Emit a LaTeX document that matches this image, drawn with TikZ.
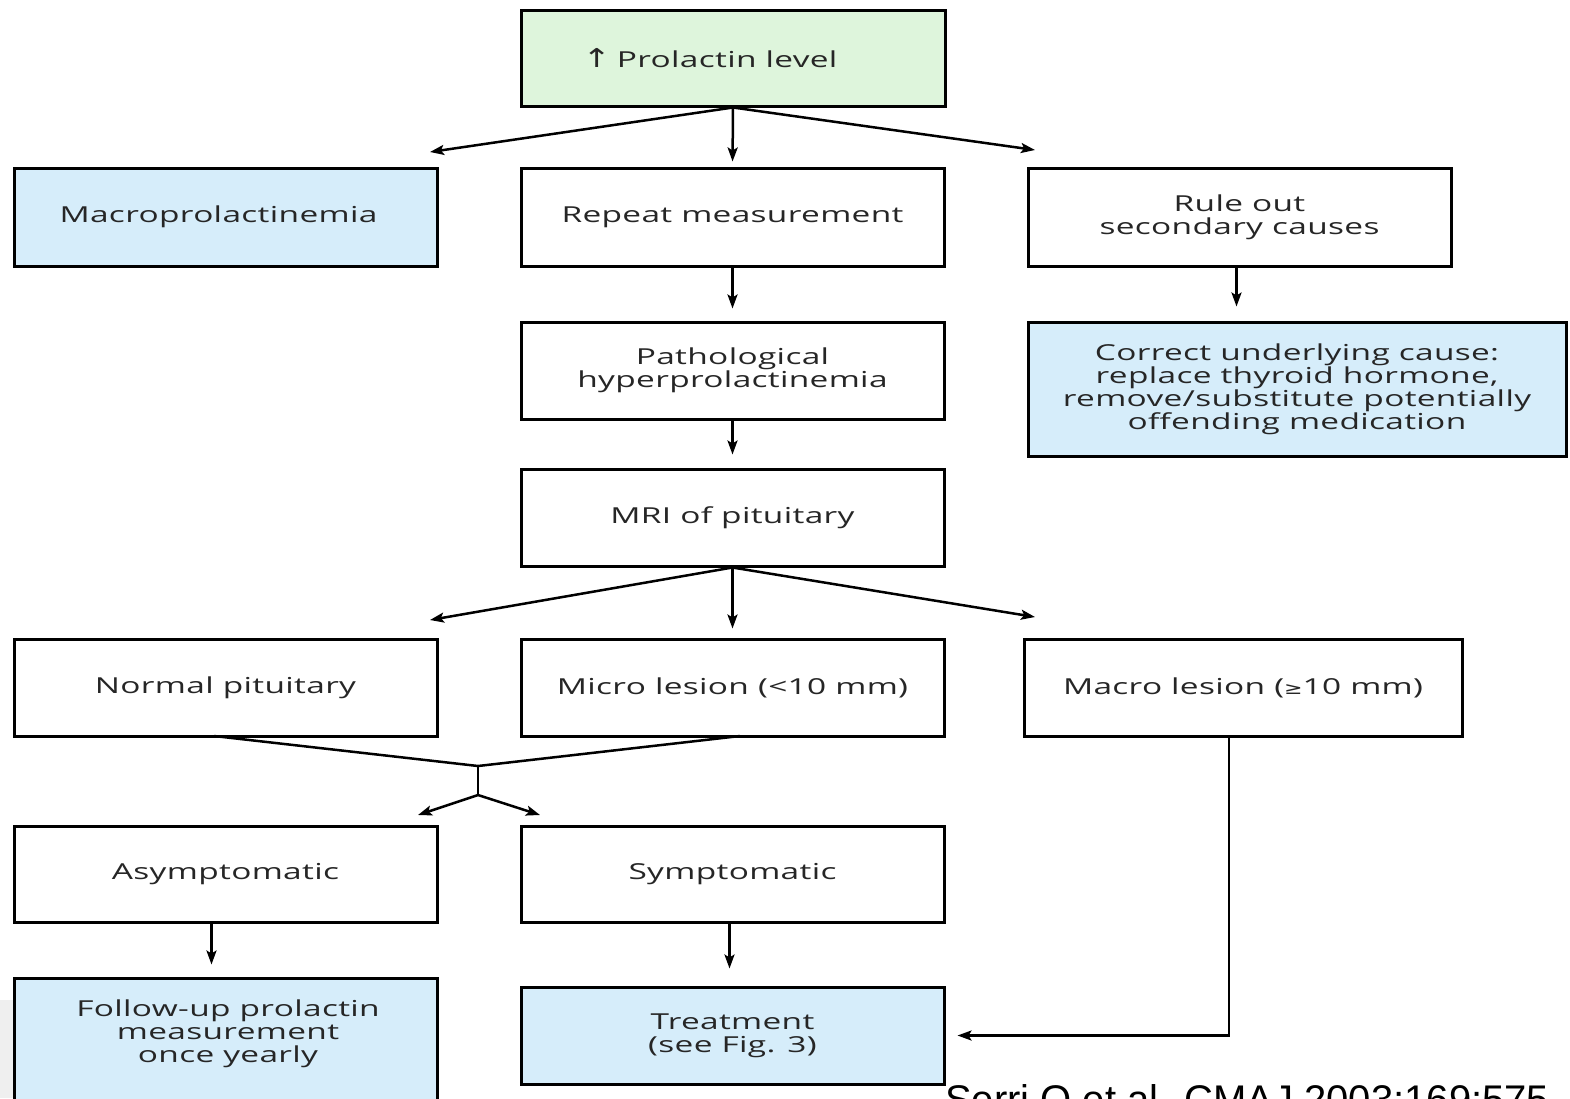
\documentclass[tikz,border=0pt]{standalone}
\usepackage{fontspec}
\setmainfont{Open Sans}[FakeStretch=1.52,LetterSpace=1.5]
\newfontfamily\citefont{Liberation Sans}
\newfontfamily\symfont{DejaVu Sans}[FakeStretch=1.3]
\usetikzlibrary{arrows.meta}
\definecolor{boxgreen}{RGB}{222,245,220}
\definecolor{boxblue}{RGB}{214,237,250}
\definecolor{edgegrey}{RGB}{239,239,239}
\begin{document}
\begin{tikzpicture}[x=1pt,y=-1pt,
  box/.style={draw=black,line width=3pt,minimum width=423pt,minimum height=97pt,
    inner sep=0pt,align=center,font=\fontsize{22}{23}\selectfont,text=black!85},
  greenbox/.style={box,fill=boxgreen},
  bluebox/.style={box,fill=boxblue},
  whitebox/.style={box,fill=white},
  txt/.style={inner sep=0pt,align=center,font=\fontsize{22}{23}\selectfont,text=black!85},
  conn/.style={line width=2.5pt,line join=miter},
  arr/.style={conn,-{Stealth[length=14pt,width=10pt,inset=3pt]}}]
\useasboundingbox (0,0) rectangle (1570,1098);
\fill[white] (0,0) rectangle (1570,1098);
\fill[edgegrey] (0,1000) rectangle (14,1098);

% boxes
\node[greenbox,minimum width=424pt,minimum height=96pt] (top) at (733,58) {\hspace*{-46pt}{\symfont\fontsize{26}{26}\selectfont ↑}\hspace{6pt}Prolactin level};
\node[bluebox,minimum height=98pt] (macro) at (225.5,217) {\hspace*{-14pt}Macroprolactinemia};
\node[whitebox,minimum height=98pt] (repeat) at (732.5,217) {Repeat measurement};
\node[whitebox,minimum height=98pt] (rule) at (1239.5,217) {Rule out\\secondary causes};
\node[whitebox] (patho) at (732.5,370.5) {Pathological\\hyperprolactinemia};
\node[bluebox,minimum width=538pt,minimum height=134pt] (correct) at (1297,389)
  {Correct underlying cause:\\replace thyroid hormone,\\remove/substitute potentially\\offending medication};
\node[whitebox] (mri) at (732.5,517.5) {MRI of pituitary};
\node[whitebox] (normal) at (225.5,687.5) {Normal pituitary};
\node[whitebox] (micro) at (732.5,687.5) {Micro lesion (<10 mm)};
\node[whitebox,minimum width=438pt] (macrol) at (1243,687.5) {Macro lesion ({\symfont\fontsize{17}{17}\selectfont ≥}10 mm)};
\node[whitebox,minimum height=96pt] (asym) at (225.5,874) {Asymptomatic};
\node[whitebox,minimum height=96pt] (sym) at (732.5,874) {Symptomatic};
\node[bluebox,minimum height=132pt] (follow) at (225.5,1044) {};
\node[txt] (followtxt) at (228,1034) {Follow-up prolactin\\measurement\\once yearly};
\node[bluebox] (treat) at (732.5,1035.5) {Treatment\\(see Fig. 3)};

% free ends of the fanning arrows
\coordinate (fanL) at (430,152);
\coordinate (fanR) at (1035,150);
\coordinate (fan2L) at (430,620);
\coordinate (fan2R) at (1035,617);
\coordinate (join) at (478,766);
\coordinate (fork) at (478,795);
\coordinate (forkL) at (418,815);
\coordinate (forkR) at (540,815);
\coordinate (normalfoot) at (214,736);
\coordinate (microfoot) at (740,736);
\coordinate (macrofoot) at ([xshift=-14pt]macrol.south);

% connectors
\draw[arr] (top.south) -- (fanL);
\draw[arr,shorten >=5pt] (top.south) -- (repeat.north);
\draw[arr] (top.south) -- (fanR);
\draw[arr,shorten >=12pt] (repeat.south) -- (patho.north);
\draw[arr,shorten >=14pt] ([xshift=-3pt]rule.south) -- ([xshift=-3pt]rule.south |- correct.north);
\draw[arr,shorten >=13pt] (patho.south) -- (mri.north);
\draw[arr] (mri.south) -- (fan2L);
\draw[arr,shorten >=9pt] (mri.south) -- (micro.north);
\draw[arr] (mri.south) -- (fan2R);
\draw[conn] (normalfoot) -- (join) -- (microfoot);
\draw[conn] (join) -- (fork);
\draw[arr] (fork) -- (forkL);
\draw[arr] (fork) -- (forkR);
\draw[arr,shorten >=12pt] ([xshift=-14pt]asym.south) -- ([xshift=-14pt]asym.south |- follow.north);
\draw[arr,shorten >=17pt] ([xshift=-3pt]sym.south) -- ([xshift=-3pt]sym.south |- treat.north);
\draw[arr,shorten >=12pt] (macrofoot) |- (treat.east);

% citation along the lower edge
\node[anchor=base west,inner sep=0pt,font=\citefont\fontsize{40}{40}\selectfont] (cite) at (945,1113) {Serri O et al. CMAJ 2003;169:575};
\end{tikzpicture}
\end{document}
